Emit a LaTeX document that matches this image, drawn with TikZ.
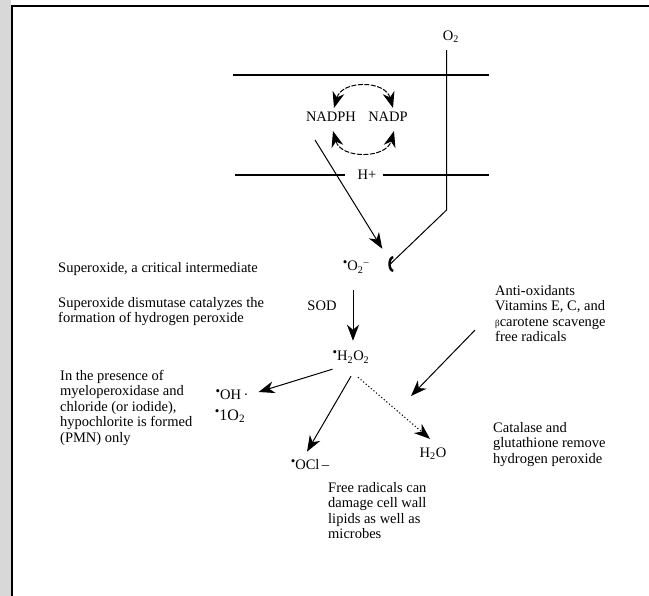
\documentclass[tikz,border=0pt]{standalone}
\usepackage{fontspec}
\setmainfont{Liberation Serif}
\usepackage{tikz}
\usetikzlibrary{arrows.meta, positioning, calc}
\definecolor{mydark}{RGB}{0,0,0}
\definecolor{mygrey}{RGB}{216,216,216}
\newcommand{\rad}{\raisebox{0.6ex}{\fontsize{13}{13}\selectfont\textbullet}}
\tikzset{
  chem/.style={inner sep=0pt, font=\fontsize{14.5}{15.5}\selectfont},
  note/.style={inner sep=0pt, anchor=north west, align=left,
    font=\fontsize{14.5}{15.5}\selectfont},
  arrow/.style={-{Stealth[length=16pt,width=12pt,inset=5pt]}, line width=1pt, color=mydark},
  dotarrow/.style={arrow, dash pattern=on 1.2pt off 2.2pt},
  cycarrow/.style={{Stealth[length=16pt,width=12pt,inset=5pt]}-{Stealth[length=16pt,width=12pt,inset=5pt]},
    line width=1pt, dash pattern=on 5pt off 1.5pt, color=mydark},
  o2arrow/.style={-{Arc Barb[length=5pt,width=16pt,line width=2.4pt]}, line width=1pt, color=mydark},
  membrane/.style={line width=1.3pt, color=mydark},
  frame/.style={line width=2pt, color=mydark}
}
\begin{document}
\begin{tikzpicture}[x=1pt, y=-1pt]
  \useasboundingbox (0,0) rectangle (649,596);
  % page edge
  \fill[mygrey] (0,0) rectangle (10.5,596);
  \draw[frame] (11.5,596) -- (11.5,6.2) -- (649,6.2);
  % membrane
  \coordinate (memTL) at (233,75);
  \coordinate (memTR) at (489,75);
  \coordinate (memBL) at (235,175);
  \coordinate (memBR) at (489,175);
  \draw[membrane] (memTL) -- (memTR);
  \node[chem] (hplus) at (367,175) {H+};
  \draw[membrane] (memBL) -- ([xshift=-12pt]hplus.west);
  \draw[membrane] ([xshift=6pt]hplus.east) -- (memBR);
  % species
  \node[chem] (o2) at (451,37) {O\textsubscript{2}};
  \node[chem] (nadph) at (331,117) {NADPH};
  \node[chem] (nadp) at (388,117) {NADP};
  \node[chem] (o2rad) at (356,267) {\rad O\textsubscript{2}\textsuperscript{--}};
  \node[chem] (sod) at (322,306) {SOD};
  \node[chem] (h2o2) at (351,357) {\rad H\textsubscript{2}O\textsubscript{2}};
  \node[chem] (oh) at (232,395) {\rad OH\,\textperiodcentered};
  \node[chem, font=\fontsize{16}{17}\selectfont] (singlet) at (230,416) {\rad 1O\textsubscript{2}};
  \node[chem] (ocl) at (310,465) {\rad OCl\,--};
  \node[chem] (water) at (433,454) {H\textsubscript{2}O};
  % notes
  \node[note] (supertxt) at (58,262) {Superoxide, a critical intermediate};
  \node[note] (sodtxt) at (58,297) {Superoxide dismutase catalyzes the\\formation of hydrogen peroxide};
  \node[note] (mpotxt) at (60,370) {In the presence of\\myeloperoxidase and\\chloride (or iodide),\\hypochlorite is formed\\(PMN) only};
  \node[note] (antitxt) at (495,285) {Anti-oxidants\\Vitamins E, C, and\\{\fontsize{9}{9}\selectfont β}carotene scavenge\\free radicals};
  \node[note] (cattxt) at (493,422) {Catalase and\\glutathione remove\\hydrogen peroxide};
  \node[note] (freetxt) at (328,482) {Free radicals can\\damage cell wall\\lipids as well as\\microbes};
  % NADPH / NADP cycle
  \draw[cycarrow] ([xshift=3pt,yshift=4pt]nadph.north) .. controls +(8,-28) and +(-8,-28) .. ([xshift=5pt,yshift=4pt]nadp.north);
  \draw[cycarrow] ([xshift=2pt,yshift=-9pt]nadph.south) .. controls +(8,28) and +(-8,28) .. ([xshift=6pt,yshift=-9pt]nadp.south);
  % electron to oxygen
  \draw[arrow] ([xshift=-16pt,yshift=-18pt]nadph.south) -- ([xshift=13pt,yshift=12pt]o2rad.north east);
  \coordinate (o2start) at ([xshift=-4.5pt,yshift=-7pt]o2.south);
  \draw[o2arrow] (o2start) -- ++(0,160) -- ([xshift=21pt,yshift=3pt]o2rad.east) -- ++(-2,0);
  % dismutation
  \draw[arrow] ([xshift=-3pt,yshift=-17pt]o2rad.south) -- ([xshift=2pt,yshift=10pt]h2o2.north);
  % products of peroxide
  \draw[arrow] ([yshift=-6pt]h2o2.south west) -- ([xshift=10pt,yshift=3pt]oh.east);
  \draw[arrow] ([yshift=-13pt]h2o2.south) -- ([xshift=-3pt,yshift=8pt]ocl.north);
  \draw[dotarrow] ([xshift=7pt,yshift=-14pt]h2o2.south) -- ([xshift=-3pt,yshift=9pt]water.north);
  % antioxidants
  \coordinate (scavenge) at (411,396);
  \draw[arrow] ([xshift=-20pt,yshift=12pt]antitxt.south west) -- (scavenge);
\end{tikzpicture}
\end{document}
